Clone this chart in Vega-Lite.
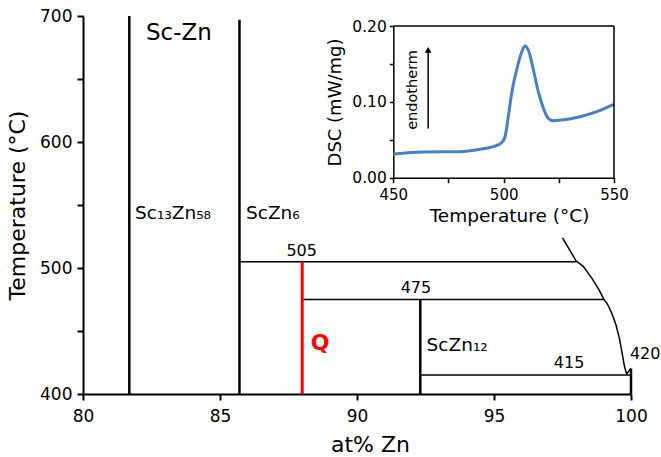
{
  "$schema": "https://vega.github.io/schema/vega-lite/v6.json",
  "width": 548,
  "height": 378,
  "autosize": "none",
  "padding": {"left": 83, "top": 16, "right": 30, "bottom": 63},
  "background": "white",
  "config": {
    "view": {"stroke": null},
    "font": "DejaVu Sans",
    "axis": {"grid": false, "labelColor": "black", "titleColor": "black", "domainColor": "black", "tickColor": "black", "titleFontWeight": "normal", "labelFlush": false, "labelOverlap": false}
  },
  "datasets": {
    "segments": [
      {"x": 81.69, "y": 400, "x2": 81.69, "y2": 700, "type": "compound"},
      {"x": 85.71, "y": 400, "x2": 85.71, "y2": 697, "type": "compound"},
      {"x": 92.31, "y": 400, "x2": 92.31, "y2": 475, "type": "compound"},
      {"x": 100, "y": 400, "x2": 100, "y2": 420, "type": "compound"},
      {"x": 85.71, "y": 505, "x2": 98.0, "y2": 505, "type": "tie"},
      {"x": 88.0, "y": 475, "x2": 99.0, "y2": 475, "type": "tie"},
      {"x": 92.31, "y": 415, "x2": 100, "y2": 415, "type": "tie"},
      {"x": 88.0, "y": 400, "x2": 88.0, "y2": 505, "type": "q"}
    ],
    "liquidus": [
      {"i": 1, "x": 97.5, "y": 524},
      {"i": 2, "x": 98.0, "y": 505.5},
      {"i": 3, "x": 98.25, "y": 501.5},
      {"i": 4, "x": 98.6, "y": 491},
      {"i": 5, "x": 98.85, "y": 482},
      {"i": 6, "x": 99.0, "y": 475.5},
      {"i": 7, "x": 99.15, "y": 471},
      {"i": 8, "x": 99.3, "y": 464},
      {"i": 9, "x": 99.45, "y": 455},
      {"i": 10, "x": 99.58, "y": 444},
      {"i": 11, "x": 99.68, "y": 432},
      {"i": 12, "x": 99.76, "y": 422},
      {"i": 13, "x": 99.84, "y": 416},
      {"i": 14, "x": 100, "y": 420.5}
    ],
    "labels": [
      {"x": 83.5, "y": 686.5, "text": "Sc-Zn", "type": "title"},
      {"x": 81.9, "y": 544, "text": "Sc₁₃Zn₅₈", "type": "phase"},
      {"x": 85.95, "y": 544, "text": "ScZn₆", "type": "phase"},
      {"x": 92.54, "y": 439, "text": "ScZn₁₂", "type": "phase"},
      {"x": 87.98, "y": 513.7, "text": "505", "type": "temp"},
      {"x": 92.15, "y": 484, "text": "475", "type": "temp"},
      {"x": 97.74, "y": 424.4, "text": "415", "type": "temp"},
      {"x": 99.96, "y": 432, "text": "420", "type": "temp2"},
      {"x": 88.65, "y": 440.5, "text": "Q", "type": "q"}
    ],
    "dsc": [
      {"t": 450, "dsc": 0.0312},
      {"t": 463.6, "dsc": 0.0339},
      {"t": 480.2, "dsc": 0.0343},
      {"t": 489.3, "dsc": 0.0374},
      {"t": 495.3, "dsc": 0.0409},
      {"t": 499.1, "dsc": 0.0462},
      {"t": 500.6, "dsc": 0.054},
      {"t": 502.1, "dsc": 0.0804},
      {"t": 503.6, "dsc": 0.111},
      {"t": 505.9, "dsc": 0.142},
      {"t": 508.2, "dsc": 0.166},
      {"t": 509.7, "dsc": 0.1736},
      {"t": 511.2, "dsc": 0.168},
      {"t": 513.5, "dsc": 0.142},
      {"t": 515.7, "dsc": 0.1134},
      {"t": 518.0, "dsc": 0.0915},
      {"t": 520.2, "dsc": 0.0783},
      {"t": 522.5, "dsc": 0.0752},
      {"t": 526.3, "dsc": 0.0761},
      {"t": 534.6, "dsc": 0.0804},
      {"t": 542.2, "dsc": 0.087},
      {"t": 549.2, "dsc": 0.0958},
      {"t": 550, "dsc": 0.0968}
    ]
  },
  "layer": [
    {
      "layer": [
        {
          "data": {"name": "segments"},
          "transform": [{"filter": "datum.type === 'compound'"}],
          "mark": {"type": "rule", "color": "black", "strokeWidth": 2.5},
          "encoding": {
            "x": {"field": "x", "type": "quantitative", "scale": {"domain": [80, 100], "nice": false, "zero": false},
              "axis": {"title": "at% Zn", "values": [80, 85, 90, 95, 100], "tickSize": 6, "tickWidth": 2, "domainWidth": 2, "labelFontSize": 17, "labelPadding": 8, "titleFontSize": 22, "titleX": 287, "titleY": 50, "titleBaseline": "middle", "titleAlign": "center"}},
            "y": {"field": "y", "type": "quantitative", "scale": {"domain": [400, 700], "nice": false, "zero": false},
              "axis": {"title": "Temperature (°C)", "values": [400, 450, 500, 550, 600, 650, 700], "labelExpr": "datum.value % 100 === 0 ? datum.label : ''", "tickSize": 6, "tickWidth": 2, "domainWidth": 2, "labelFontSize": 17, "labelPadding": 5, "titleFontSize": 22, "titleAngle": -90, "titleX": -66, "titleY": 189, "titleBaseline": "middle", "titleAlign": "center"}},
            "x2": {"field": "x2"},
            "y2": {"field": "y2"}
          }
        },
        {
          "data": {"name": "segments"},
          "transform": [{"filter": "datum.type === 'tie'"}],
          "mark": {"type": "rule", "color": "black", "strokeWidth": 1.5},
          "encoding": {
            "x": {"field": "x", "type": "quantitative"},
            "y": {"field": "y", "type": "quantitative"},
            "x2": {"field": "x2"},
            "y2": {"field": "y2"}
          }
        },
        {
          "data": {"name": "segments"},
          "transform": [{"filter": "datum.type === 'q'"}],
          "mark": {"type": "rule", "color": "#ff0000", "strokeWidth": 3},
          "encoding": {
            "x": {"field": "x", "type": "quantitative"},
            "y": {"field": "y", "type": "quantitative"},
            "x2": {"field": "x2"},
            "y2": {"field": "y2"}
          }
        },
        {
          "data": {"name": "liquidus"},
          "mark": {"type": "line", "color": "black", "strokeWidth": 1.5},
          "encoding": {
            "x": {"field": "x", "type": "quantitative"},
            "y": {"field": "y", "type": "quantitative"},
            "order": {"field": "i", "type": "quantitative"}
          }
        },
        {
          "data": {"name": "labels"},
          "transform": [{"filter": "datum.type === 'title'"}],
          "mark": {"type": "text", "fontSize": 23, "align": "center", "baseline": "middle", "color": "black"},
          "encoding": {"x": {"field": "x", "type": "quantitative"}, "y": {"field": "y", "type": "quantitative"}, "text": {"field": "text"}}
        },
        {
          "data": {"name": "labels"},
          "transform": [{"filter": "datum.type === 'phase'"}],
          "mark": {"type": "text", "fontSize": 18.5, "align": "left", "baseline": "middle", "color": "black"},
          "encoding": {"x": {"field": "x", "type": "quantitative"}, "y": {"field": "y", "type": "quantitative"}, "text": {"field": "text"}}
        },
        {
          "data": {"name": "labels"},
          "transform": [{"filter": "datum.type === 'temp2'"}],
          "mark": {"type": "text", "fontSize": 16, "align": "left", "baseline": "middle", "color": "black"},
          "encoding": {"x": {"field": "x", "type": "quantitative"}, "y": {"field": "y", "type": "quantitative"}, "text": {"field": "text"}}
        },
        {
          "data": {"name": "labels"},
          "transform": [{"filter": "datum.type === 'temp'"}],
          "mark": {"type": "text", "fontSize": 16, "align": "center", "baseline": "middle", "color": "black"},
          "encoding": {"x": {"field": "x", "type": "quantitative"}, "y": {"field": "y", "type": "quantitative"}, "text": {"field": "text"}}
        },
        {
          "data": {"name": "labels"},
          "transform": [{"filter": "datum.type === 'q'"}],
          "mark": {"type": "text", "fontSize": 22, "fontWeight": "bold", "align": "center", "baseline": "middle", "color": "#ff0000"},
          "encoding": {"x": {"field": "x", "type": "quantitative"}, "y": {"field": "y", "type": "quantitative"}, "text": {"field": "text"}}
        }
      ]
    },
    {
      "layer": [
        {
          "data": {"name": "dsc"},
          "mark": {"type": "line", "color": "#4a7fc0", "strokeWidth": 3, "interpolate": "monotone"},
          "encoding": {
            "x": {"field": "t", "type": "quantitative", "scale": {"domain": [450, 550], "range": [310.3, 531], "nice": false, "zero": false},
              "axis": {"orient": "bottom", "offset": -216.3, "title": "Temperature (°C)", "values": [450, 475, 500, 525, 550], "labelExpr": "datum.value % 50 === 0 ? datum.label : ''", "tickSize": 5, "tickWidth": 1.5, "domainWidth": 1.5, "labelFontSize": 15, "labelPadding": 5, "titleFontSize": 18.5, "titleX": 426, "titleY": 38, "titleBaseline": "middle", "titleAlign": "center"}},
            "y": {"field": "dsc", "type": "quantitative", "scale": {"domain": [0, 0.2], "range": [161.7, 10], "nice": false},
              "axis": {"orient": "left", "offset": -310.3, "title": "DSC  (mW/mg)", "values": [0, 0.05, 0.1, 0.15, 0.2], "labelExpr": "round(datum.value * 100) % 10 === 0 ? format(datum.value, '.2f') : ''", "tickSize": 4, "tickWidth": 1.5, "domainWidth": 1.5, "labelFontSize": 15.5, "labelPadding": 3, "titleFontSize": 18, "titleAngle": -90, "titleX": -58.3, "titleY": 86, "titleBaseline": "middle", "titleAlign": "center"}}
          }
        },
        {
          "data": {"values": [{}]},
          "mark": {"type": "rule", "color": "black", "strokeWidth": 1.5},
          "encoding": {"x": {"datum": 450}, "x2": {"datum": 550}, "y": {"datum": 0.2}}
        },
        {
          "data": {"values": [{}]},
          "mark": {"type": "rule", "color": "black", "strokeWidth": 1.5},
          "encoding": {"x": {"datum": 550}, "y": {"datum": 0}, "y2": {"datum": 0.2}}
        },
        {
          "data": {"values": [{}]},
          "mark": {"type": "rule", "color": "black", "strokeWidth": 1.5},
          "encoding": {"x": {"datum": 465.8}, "y": {"datum": 0.065}, "y2": {"datum": 0.166}}
        },
        {
          "data": {"values": [{}]},
          "mark": {"type": "point", "shape": "triangle-up", "filled": true, "size": 45, "color": "black", "opacity": 1},
          "encoding": {"x": {"datum": 465.8}, "y": {"datum": 0.1685}}
        },
        {
          "data": {"values": [{}]},
          "mark": {"type": "text", "text": "endotherm", "angle": 270, "fontSize": 14.5, "align": "center", "baseline": "middle", "color": "black"},
          "encoding": {"x": {"datum": 459}, "y": {"datum": 0.1157}}
        }
      ]
    }
  ],
  "resolve": {"scale": {"x": "independent", "y": "independent"}, "axis": {"x": "independent", "y": "independent"}}
}
